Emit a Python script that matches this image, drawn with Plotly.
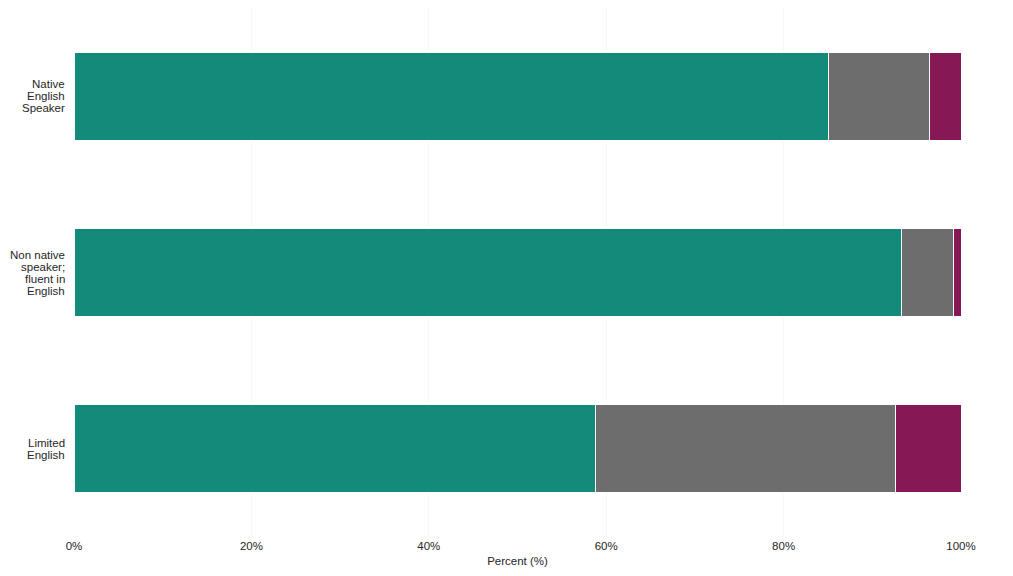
import plotly.graph_objects as go

categories = ["Native English Speaker", "Non native speaker; fluent in English", "Limited English"]
category_lines = [["Native", "English", "Speaker"],
                  ["Non native", "speaker;", "fluent in", "English"],
                  ["Limited", "English"]]
series_names = ["Group 1", "Group 2", "Group 3"]
series_1 = [85.1, 93.3, 58.8]
series_2 = [11.3, 5.9, 33.8]
series_3 = [3.6, 0.8, 7.4]
colors = ["#138B7A", "#6D6D6D", "#851855"]
tick_vals = [0, 20, 40, 60, 80, 100]
tick_text = ["0%", "20%", "40%", "60%", "80%", "100%"]

fig = go.Figure()
for name, vals, col in zip(series_names, [series_1, series_2, series_3], colors):
    fig.add_trace(go.Bar(
        y=categories, x=vals, name=name, orientation="h",
        marker=dict(color=col, line=dict(color="white", width=1)),
        showlegend=False,
    ))

line_h = 12
for cat, lines in zip(categories, category_lines):
    n = len(lines)
    for i, ln in enumerate(lines):
        fig.add_annotation(
            x=0, xref="x", y=cat, yref="y", text=ln, showarrow=False,
            xanchor="right", yanchor="middle", align="right",
            xshift=-7, yshift=((n - 1) / 2 - i) * line_h,
            font=dict(size=11.5, color="#262626"),
        )

fig.update_layout(
    barmode="stack",
    bargap=0.5,
    width=997, height=560,
    margin=dict(l=66, r=44, t=0, b=31, autoexpand=False),
    paper_bgcolor="white", plot_bgcolor="white",
    font=dict(family="Liberation Sans, Arial, sans-serif", size=11.5, color="#262626"),
    xaxis=dict(
        range=[0, 100], tickvals=tick_vals, ticktext=tick_text,
        showgrid=True, gridcolor="#f7f7f7", zeroline=False,
        showline=False, ticks="",
        title=dict(text="Percent (%)", standoff=6, font=dict(size=11.5)),
    ),
    yaxis=dict(
        autorange="reversed", showgrid=False, zeroline=False,
        showline=False, ticks="", showticklabels=False,
    ),
)

fig.write_html("out.html")
